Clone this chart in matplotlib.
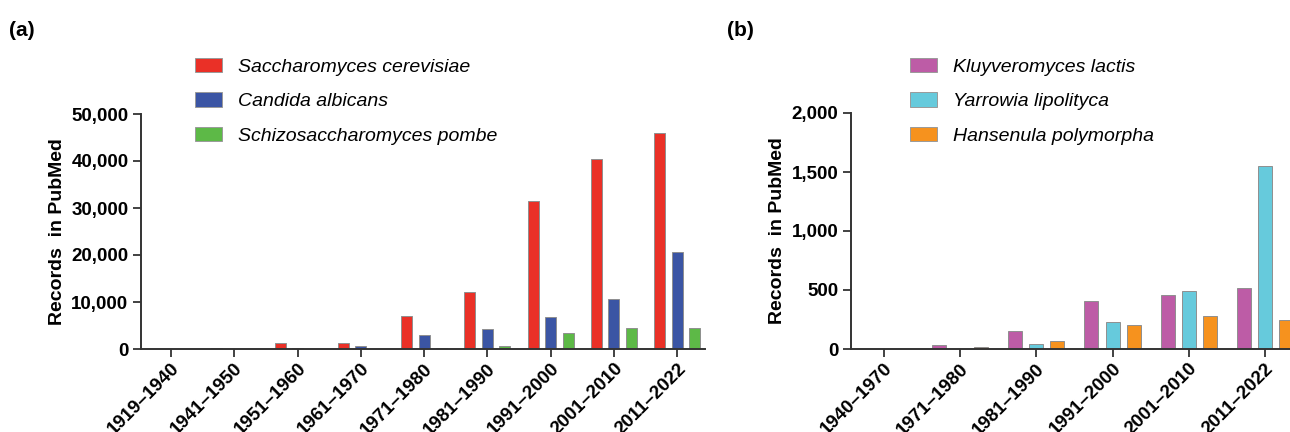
import matplotlib
matplotlib.use("Agg")
import matplotlib.pyplot as plt
import matplotlib.transforms as mtransforms
import numpy as np
from matplotlib.patches import Patch

plt.rcParams['font.family'] = ['Liberation Sans', 'DejaVu Sans']

# ---------- data ----------
periods_a = ["1919–1940", "1941–1950", "1951–1960", "1961–1970", "1971–1980",
             "1981–1990", "1991–2000", "2001–2010", "2011–2022"]
s_cerevisiae = [0, 300, 1200, 1300, 7100, 12200, 31400, 40400, 46000]
c_albicans = [0, 0, 300, 550, 3000, 4200, 6800, 10700, 20700]
s_pombe = [0, 0, 0, 50, 250, 700, 3500, 4400, 4400]
names_a = ["Saccharomyces cerevisiae", "Candida albicans", "Schizosaccharomyces pombe"]
colors_a = ["#EA3027", "#3B55A4", "#5DB947"]

periods_b = ["1940–1970", "1971–1980", "1981–1990", "1991–2000", "2001–2010", "2011–2022"]
k_lactis = [0, 30, 150, 405, 460, 520]
y_lipolytica = [0, 0, 40, 228, 495, 1550]
h_polymorpha = [0, 20, 65, 200, 282, 250]
names_b = ["Kluyveromyces lactis", "Yarrowia lipolityca", "Hansenula polymorpha"]
colors_b = ["#BD5CA6", "#66CADC", "#F6921E"]

yticks_a = [0, 10000, 20000, 30000, 40000, 50000]
yticks_b = [0, 500, 1000, 1500, 2000]

W, H = 1290, 432
fig = plt.figure(figsize=(W / 100, H / 100), dpi=100)

FS = 13.5
spine_col = "#333333"


def frac(x0, y_top, x1, y_bot):
    return [x0 / W, 1 - y_bot / H, (x1 - x0) / W, (y_bot - y_top) / H]


def panel(rect, periods, series, names, colors, yticks, xlim, pitch, width, legend_xy, letter, letter_x):
    ax = fig.add_axes(rect)
    x = np.arange(len(periods))
    offs = [-pitch, 0, pitch]
    for vals, off, col in zip(series, offs, colors):
        ax.bar(x + off, vals, width=width, color=col, edgecolor="#8f8f8f", linewidth=0.7, zorder=2)
    ax.set_xlim(*xlim)
    ax.set_ylim(yticks[0], yticks[-1])
    ax.set_yticks(yticks)
    ax.set_yticklabels([f"{v:,}" for v in yticks], fontsize=FS, fontweight="bold")
    ax.set_xticks(x)
    ax.set_xticklabels(periods, rotation=45, ha="right", va="top", rotation_mode="anchor",
                       fontsize=FS, fontweight="bold")
    shift = mtransforms.ScaledTranslation(4 / 100, 0, fig.dpi_scale_trans)
    for lab in ax.get_xticklabels():
        lab.set_transform(lab.get_transform() + shift)
    for s in ["top", "right"]:
        ax.spines[s].set_visible(False)
    for s in ["left", "bottom"]:
        ax.spines[s].set_color(spine_col)
        ax.spines[s].set_linewidth(1.4)
    ax.spines["bottom"].set_zorder(3)
    ax.tick_params(axis="both", direction="out", length=6, width=1.3, color=spine_col, pad=3)
    ax.tick_params(axis="x", pad=2)
    ax.set_ylabel("Records  in PubMed", fontsize=14, fontweight="bold", labelpad=4)
    handles = [Patch(facecolor=c, edgecolor="#9a9a9a", linewidth=0.7) for c in colors]
    fig.legend(handles, names, loc="upper left",
               bbox_to_anchor=(legend_xy[0] / W, 1 - legend_xy[1] / H),
               frameon=False, prop={"style": "italic", "size": 14},
               handlelength=1.4, handleheight=0.75, handletextpad=0.8,
               labelspacing=0.85, borderpad=0, borderaxespad=0)
    fig.text(letter_x / W, 1 - 30 / H, letter, fontsize=15, fontweight="bold",
             ha="left", va="center")
    return ax


panel(frac(141, 114, 705, 349), periods_a, [s_cerevisiae, c_albicans, s_pombe], names_a, colors_a,
      yticks_a, (-0.474, 8.44), 0.276, 0.174, (195, 58), "(a)", 9)

panel(frac(851, 113, 1290, 349), periods_b, [k_lactis, y_lipolytica, h_polymorpha], names_b, colors_b,
      yticks_b, (-0.433, 5.33), 0.276, 0.184, (910, 58), "(b)", 727)

fig.savefig("out.png", dpi=100)
